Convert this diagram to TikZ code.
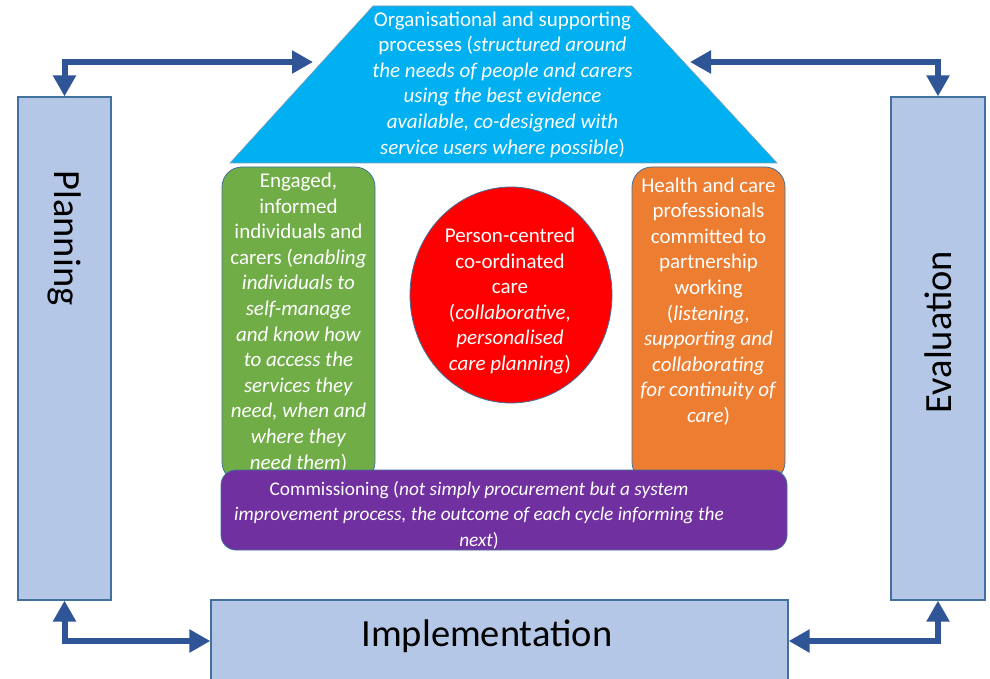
\documentclass[tikz,border=0pt]{standalone}
\usepackage{fontspec}
\setmainfont{Carlito}
\usetikzlibrary{arrows.meta}

\definecolor{orgblue}{HTML}{00B0F0}
\definecolor{engreen}{HTML}{70AD47}
\definecolor{hcorange}{HTML}{ED7D31}
\definecolor{compurple}{HTML}{7030A0}
\definecolor{stagefill}{HTML}{B4C7E7}
\definecolor{stageline}{HTML}{41719C}
\definecolor{arrowblue}{HTML}{2F5597}

\begin{document}
\begin{tikzpicture}[x=1pt,y=-1pt]
	\tikzstyle{every node}=[inner sep=0pt]
	\tikzstyle{stage}=[draw=stageline, line width=1.2pt, fill=stagefill]
	\tikzstyle{pillar}=[draw=stageline, line width=0.8pt, rounded corners=20pt]
	\tikzstyle{boxtext}=[text=white, align=center, font=\fontsize{21}{25.6}\selectfont]
	\tikzstyle{stagetext}=[font=\fontsize{38.5}{46}\selectfont]
	\tikzstyle{looparrow}=[line width=6pt, draw=arrowblue, {Triangle[length=21pt,width=22pt]}-{Triangle[length=21pt,width=22pt]}]

	\useasboundingbox[fill=white] (0,0) rectangle (990,679);

	%% roof
	\draw [draw=stageline!70, line width=0.6pt, fill=orgblue] (373,6) -- (632,6) -- (777,163) -- (230,163) -- cycle;
	\coordinate (orgleft) at (313,62);
	\coordinate (orgright) at (690,62);
	\node [boxtext] (orgtext) at (502.5,84.5) {Organisational and supporting\\processes (\textit{structured around}\\\textit{the needs of people and carers}\\\textit{using the best evidence}\\\textit{available, co-designed with}\\\textit{service users where possible})};

	%% pillars
	\node [pillar, fill=engreen, minimum width=153pt, minimum height=315pt] (engaged) at (298.5,324.5) {};
	\node [boxtext] (engagedtext) at (298.5,322.5) {Engaged,\\informed\\individuals and\\carers (\textit{enabling}\\\textit{individuals to}\\\textit{self-manage}\\\textit{and know how}\\\textit{to access the}\\\textit{services they}\\\textit{need, when and}\\\textit{where they}\\\textit{need them})};
	\node [pillar, fill=hcorange, minimum width=153pt, minimum height=315pt] (prof) at (708.5,324.5) {};
	\node [boxtext] (proftext) at (708.5,301.5) {Health and care\\professionals\\committed to\\partnership\\working\\(\textit{listening,}\\\textit{supporting and}\\\textit{collaborating}\\\textit{for continuity of}\\\textit{care})};
	\draw [draw=stageline, line width=0.8pt, fill=red] (511,295) ellipse (101 and 108);
	\node [boxtext] (persontext) at (510,301) {Person-centred\\co-ordinated\\care\\(\textit{collaborative,}\\\textit{personalised}\\\textit{care planning})};

	%% floor
	\node [pillar, rounded corners=15pt, fill=compurple, minimum width=566pt, minimum height=80pt] (comm) at (504,510) {};
	\node [boxtext, font=\fontsize{19.3}{25.5}\selectfont] (commtext) at (479,515) {Commissioning (\textit{not simply procurement but a system}\\\textit{improvement process, the outcome of each cycle informing the}\\\textit{next})};

	%% cycle
	\node [stage, minimum width=93pt, minimum height=503pt] (plan) at (64.5,348.5) {};
	\node [stagetext, rotate=-90] at (64.5,238) {Planning};
	\node [stage, minimum width=94pt, minimum height=503pt] (eval) at (938,348.5) {};
	\node [stagetext, rotate=90] at (938,332) {Evaluation};
	\node [stage, minimum width=577pt, minimum height=82pt] (impl) at (499.5,641) {};
	\node [stagetext] at (487,636) {Implementation};

	\draw [looparrow] (plan.north) |- (orgleft);
	\draw [looparrow] (orgright) -| (eval.north);
	\draw [looparrow] (plan.south) |- (impl.west);
	\draw [looparrow] (impl.east) -| (eval.south);

\end{tikzpicture}
\end{document}
